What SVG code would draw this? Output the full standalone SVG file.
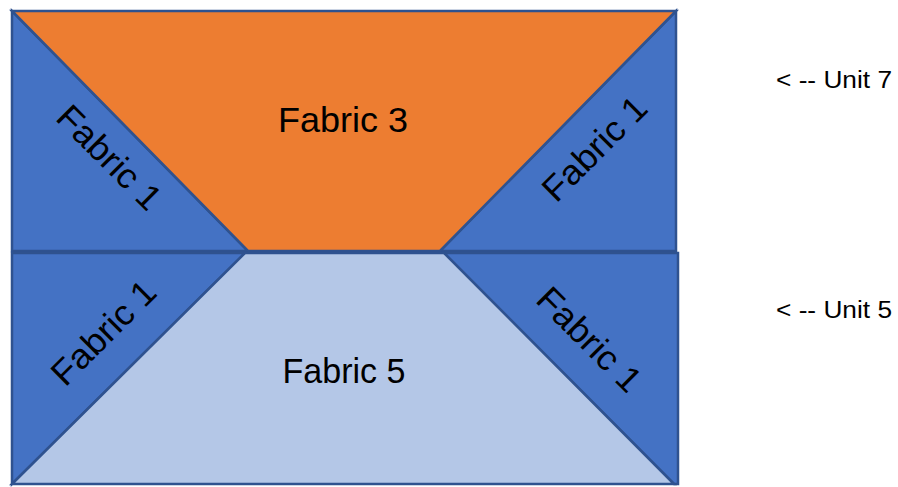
<svg xmlns="http://www.w3.org/2000/svg" width="898" height="487" viewBox="0 0 898 487">
<style>
.b{fill:#4472C4;stroke:#2F528F;stroke-width:2.5;stroke-linejoin:miter}
.o{fill:#ED7D31;stroke:#2F528F;stroke-width:2.5}
.l{fill:#B4C7E7;stroke:#2F528F;stroke-width:2.5}
.t{font-family:"Liberation Sans",Arial,sans-serif;font-size:35px;fill:#000;text-anchor:middle}
.u{font-family:"Liberation Sans",Arial,sans-serif;font-size:23px;fill:#000}
</style>
<rect width="898" height="487" fill="#fff"/>
<g id="unit7">
  <g id="u7-left"><polygon class="b" points="12,11 248,251 12,251"/></g>
  <g id="u7-right"><polygon class="b" points="676,11 676,251 440,251"/></g>
  <g id="u7-center"><polygon class="o" points="12,11 676,11 440,251 248,251"/></g>
  <text class="t" x="343" y="132" textLength="130" lengthAdjust="spacingAndGlyphs">Fabric 3</text>
  <text class="t" transform="translate(101,166) rotate(45)" textLength="132" lengthAdjust="spacingAndGlyphs">Fabric 1</text>
  <text class="t" transform="translate(603,157) rotate(-45)" textLength="132" lengthAdjust="spacingAndGlyphs">Fabric 1</text>
</g>
<g id="unit5">
  <g id="u5-left"><polygon class="b" points="12,253 245,253 12,484"/></g>
  <g id="u5-right"><polygon class="b" points="444,253 678,253 678,484 674,484"/></g>
  <g id="u5-center"><polygon class="l" points="245,253 444,253 674,484 12,484"/></g>
  <text class="t" x="344" y="383" textLength="123" lengthAdjust="spacingAndGlyphs">Fabric 5</text>
  <text class="t" transform="translate(112,341) rotate(-45)" textLength="132" lengthAdjust="spacingAndGlyphs">Fabric 1</text>
  <text class="t" transform="translate(581,348) rotate(45)" textLength="132" lengthAdjust="spacingAndGlyphs">Fabric 1</text>
</g>
<g id="labels">
  <text class="u" x="776" y="88" textLength="116" lengthAdjust="spacingAndGlyphs">&lt; -- Unit 7</text>
  <text class="u" x="776" y="318" textLength="116" lengthAdjust="spacingAndGlyphs">&lt; -- Unit 5</text>
</g>
</svg>
